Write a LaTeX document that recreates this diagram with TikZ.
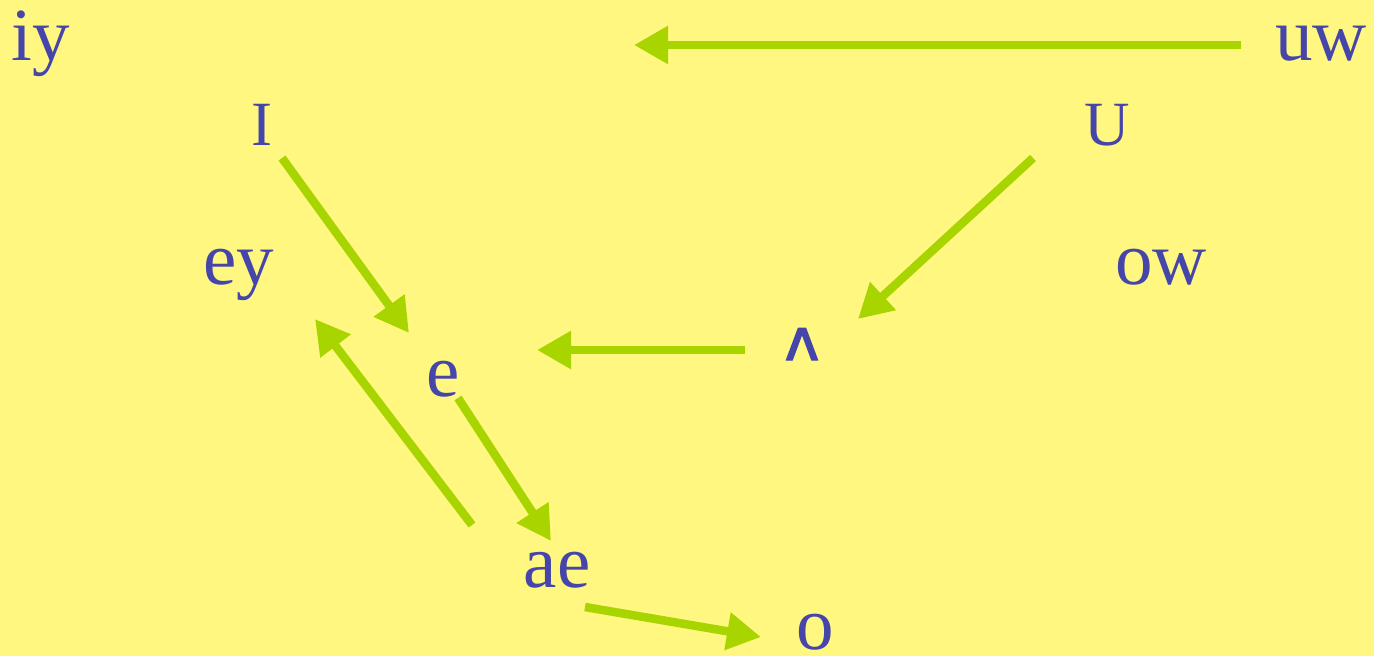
\documentclass[tikz,border=0pt]{standalone}
\usepackage{fontspec}
\setmainfont{Liberation Serif}
\newfontfamily\ipafont[FakeBold=2.5]{DejaVu Sans}
\usetikzlibrary{arrows.meta}
\definecolor{bgyellow}{RGB}{255,247,128}
\definecolor{vowelblue}{RGB}{70,70,170}
\definecolor{arrowgreen}{RGB}{168,212,0}
\tikzset{
  vowel/.style={inner sep=0pt, anchor=base, text=vowelblue, font=\fontsize{75}{80}\selectfont},
  capvowel/.style={vowel, font=\fontsize{63}{70}\selectfont},
  vshiftarrow/.style={draw=arrowgreen, line width=8.5pt, -{Triangle[length=34pt,width=36pt]}, arrowgreen}
}
\begin{document}
\begin{tikzpicture}[x=1pt,y=-1pt]
\fill[bgyellow] (0,0) rectangle (1374,656);
\useasboundingbox (0,0) rectangle (1374,656);
\node[vowel] (iy) at (41,60) {iy};
\node[vowel] (uw) at (1321,60) {uw};
\node[capvowel] (I) at (262,145) {I};
\node[capvowel] (U) at (1107,145) {U};
\node[vowel] (ey) at (239,284) {ey};
\node[vowel] (ow) at (1161,284) {ow};
\node[vowel, font=\ipafont\fontsize{58}{70}\selectfont] (wedge) at (802,360) {ʌ};
\node[vowel] (e) at (443,396) {e};
\node[vowel] (ae) at (557,587) {ae};
\node[vowel] (o) at (815,649) {o};
% connector endpoints
\coordinate (uwS) at (1241,45);
\coordinate (uwE) at (634,45);
\coordinate (IS) at (282,158);
\coordinate (eE1) at (409,333);
\coordinate (US) at (1033,158);
\coordinate (wE) at (858,319);
\coordinate (wS) at (745,350);
\coordinate (eE2) at (537,350);
\coordinate (eS) at (458,398);
\coordinate (aeE) at (551,541);
\coordinate (aeS) at (472,525);
\coordinate (eyE) at (315,319);
\coordinate (aeS2) at (585,607);
\coordinate (oE) at (761,637);
\draw[vshiftarrow] (uwS) -- (uwE);
\draw[vshiftarrow] (IS) -- (eE1);
\draw[vshiftarrow] (US) -- (wE);
\draw[vshiftarrow] (wS) -- (eE2);
\draw[vshiftarrow] (eS) -- (aeE);
\draw[vshiftarrow] (aeS) -- (eyE);
\draw[vshiftarrow] (aeS2) -- (oE);
\end{tikzpicture}
\end{document}
